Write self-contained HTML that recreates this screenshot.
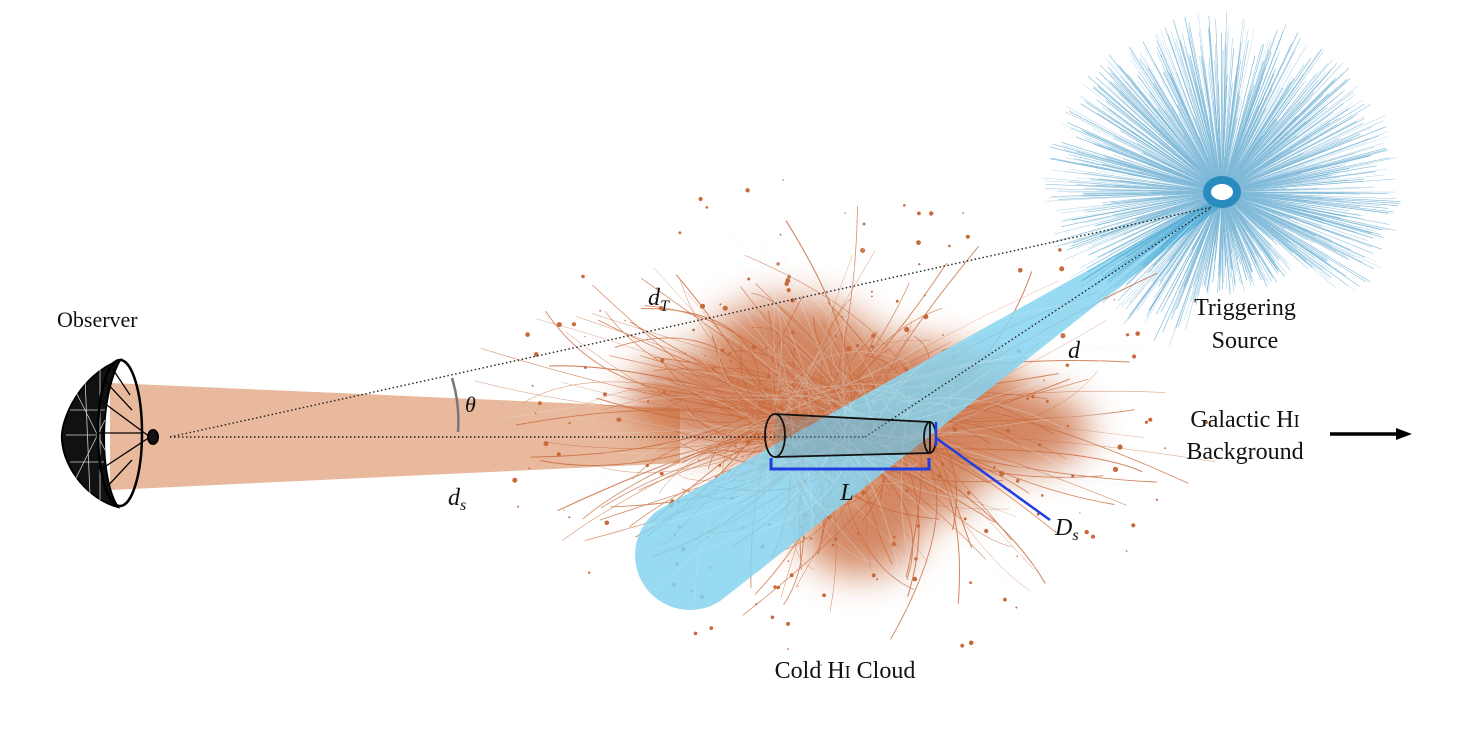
<!DOCTYPE html>
<html><head><meta charset="utf-8"><style>
html,body{margin:0;padding:0;background:#fff;}
svg{display:block;}
text{font-family:"Liberation Serif",serif;fill:#111;}
</style></head><body>
<svg id="s" width="1476" height="729" viewBox="0 0 1476 729" xmlns="http://www.w3.org/2000/svg">
<defs>
<filter id="bl" x="-20%" y="-20%" width="140%" height="140%"><feGaussianBlur stdDeviation="18"/></filter>
</defs>
<polygon points="110,383 680,408 680,463 110,490" fill="#e8b99d"/>
<g fill="#c8693a" opacity="0.8">
<g filter="url(#bl)">
<ellipse cx="830" cy="400" rx="200" ry="65"/>
<ellipse cx="790" cy="340" rx="80" ry="40"/>
<ellipse cx="990" cy="430" rx="100" ry="45"/>
<ellipse cx="700" cy="390" rx="70" ry="35"/>
<ellipse cx="860" cy="530" rx="60" ry="45"/>
<ellipse cx="920" cy="480" rx="60" ry="40"/>
</g>
</g>
<g id="fil" stroke="#c8693a" fill="none" opacity="0.8"></g>
<g id="dots" fill="#c8693a"></g>
<path d="M1218,209 L720.5,600.8 A55,55 0 0 1 659.5,509.2 L1212,201 Z" fill="#86d4f0" opacity="0.85"/>
<g id="fil2" stroke="#dff4fb" fill="none" opacity="0.3"></g>
<g id="rays" stroke="#2a8bbf" opacity="0.6"></g>
<ellipse cx="1222" cy="192" rx="15" ry="12" fill="none" stroke="#2a8bbf" stroke-width="8"/>
<g stroke="#222" stroke-width="1.4" stroke-dasharray="1.5,2.5" fill="none">
<line x1="170" y1="437" x2="1212" y2="207"/>
<line x1="170" y1="437" x2="865" y2="437"/>
<line x1="865" y1="437" x2="1212" y2="207"/>
</g>
<path d="M452,378 Q460,404 458,432" stroke="#777" stroke-width="2.5" fill="none"/>
<g stroke="#111" stroke-width="1.8" fill="rgba(120,140,150,0.35)">
<path d="M775,414 L930,422 L930,453 L775,457"/>
<ellipse cx="775" cy="435.5" rx="10" ry="21.5" fill="none"/>
<ellipse cx="930" cy="437.5" rx="6" ry="15.5" fill="none"/>
</g>
<path d="M771,458 L771,469 L929,469 L929,458" stroke="#1f3de0" stroke-width="3" fill="none"/>
<line x1="936" y1="422" x2="936" y2="446" stroke="#1f3de0" stroke-width="2.5"/>
<line x1="936" y1="438" x2="1050" y2="520" stroke="#1f3de0" stroke-width="2.5"/>
<g stroke="#000" fill="none">
<path d="M120,360 C80,375 60,420 62,440 C64,470 90,500 118,507 C100,480 98,400 120,360 Z" fill="#111" stroke-width="2"/>
<g stroke="#fff" stroke-width="0.8" opacity="0.8">
<path d="M70,410 L105,410 M66,435 L100,435 M70,462 L104,462 M85,378 L90,495 M100,368 L100,500 M75,390 L105,450 M75,480 L105,420"/>
</g>
<ellipse cx="120" cy="433" rx="22" ry="73" stroke-width="2.5" fill="none"/>
<g stroke-width="1.3">
<line x1="100" y1="400" x2="150" y2="437"/><line x1="100" y1="470" x2="150" y2="437"/>
<line x1="98" y1="433" x2="142" y2="433"/><line x1="104" y1="380" x2="132" y2="410"/>
<line x1="104" y1="490" x2="132" y2="460"/><line x1="110" y1="365" x2="130" y2="395"/>
</g>
<ellipse cx="153" cy="437" rx="5" ry="7" fill="#111" stroke-width="2"/>
</g>
<text x="57" y="327" font-size="22">Observer</text>
<text x="648" y="305" font-size="24" font-style="italic">d<tspan font-size="16" dy="6">T</tspan></text>
<text x="465" y="412" font-size="22" font-style="italic">θ</text>
<text x="448" y="505" font-size="24" font-style="italic">d<tspan font-size="16" dy="5">s</tspan></text>
<text x="1068" y="358" font-size="24" font-style="italic">d</text>
<text x="847" y="500" font-size="24" font-style="italic" text-anchor="middle">L</text>
<text x="1055" y="535" font-size="24" font-style="italic">D<tspan font-size="16" dy="5">s</tspan></text>
<text x="1245" y="315" font-size="24" text-anchor="middle">Triggering</text>
<text x="1245" y="348" font-size="24" text-anchor="middle">Source</text>
<text x="1245" y="427" font-size="24" text-anchor="middle">Galactic H<tspan font-size="18">I</tspan></text>
<text x="1245" y="459" font-size="24" text-anchor="middle">Background</text>
<text x="845" y="678" font-size="24" text-anchor="middle">Cold H<tspan font-size="18">I</tspan> Cloud</text>
<line x1="1330" y1="434" x2="1398" y2="434" stroke="#000" stroke-width="3.5"/>
<polygon points="1396,428 1412,434 1396,440" fill="#000"/>
</svg>
<script>
var NS="http://www.w3.org/2000/svg";
var seed=7;function r(){seed=(seed*16807)%2147483647;return seed/2147483647;}
var rays=document.getElementById("rays");
for(var i=0;i<1100;i++){var a=r()*Math.PI*2;var l=60+Math.pow(r(),0.7)*130;var r0=14;
var dx=Math.cos(a),dy=Math.sin(a);
if(dy>0.3&&dx>-0.2&&dx<0.7)l*=0.65;
var cx=1222,cy=192;var ln=document.createElementNS(NS,"line");
ln.setAttribute("x1",cx+dx*r0);ln.setAttribute("y1",cy+dy*r0);
ln.setAttribute("x2",cx+dx*l*0.95);ln.setAttribute("y2",cy+dy*l*(dy>0?0.85:0.95));
ln.setAttribute("stroke-width",(0.2+r()*0.5).toFixed(2));rays.appendChild(ln);}
function fils(id,n){var g=document.getElementById(id);
for(var i=0;i<n;i++){var a=r()*Math.PI*2;var cx=840+(r()-0.5)*160,cy=420+(r()-0.5)*60;
var l=50+r()*170;var x2=cx+Math.cos(a)*l*1.5,y2=cy+Math.sin(a)*l*0.95;
var mx=(cx+x2)/2+(r()-0.5)*120,my=(cy+y2)/2+(r()-0.5)*120;
var p=document.createElementNS(NS,"path");p.setAttribute("d","M"+cx.toFixed(1)+","+cy.toFixed(1)+" Q"+mx.toFixed(1)+","+my.toFixed(1)+" "+x2.toFixed(1)+","+y2.toFixed(1));
p.setAttribute("stroke-width",(0.3+r()*0.8).toFixed(2));g.appendChild(p);}}
fils("fil",260);fils("fil2",100);
var dots=document.getElementById("dots");
for(var i=0;i<200;i++){var a=r()*Math.PI*2;var d=r();var x=850+Math.cos(a)*(100+d*240)*1.05,y=420+Math.sin(a)*(60+d*200)*0.95;
var c=document.createElementNS(NS,"circle");c.setAttribute("cx",x.toFixed(1));c.setAttribute("cy",y.toFixed(1));c.setAttribute("r",(0.6+r()*2).toFixed(1));dots.appendChild(c);}
</script>
</body></html>
